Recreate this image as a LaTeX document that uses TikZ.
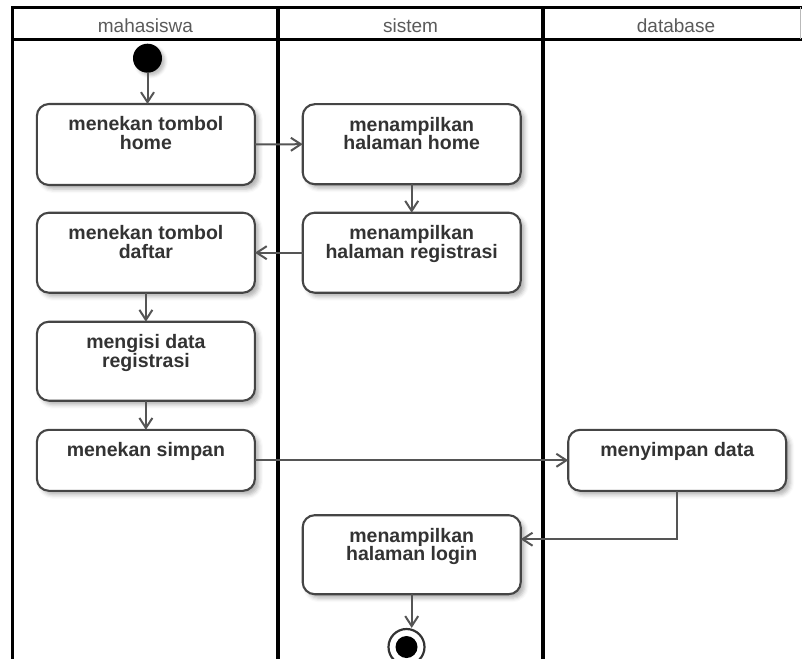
\documentclass[tikz,border=0pt]{standalone}
\usepackage{fontspec}
\setmainfont{Liberation Sans}
\usetikzlibrary{arrows.meta,shadows.blur}

\definecolor{boxline}{HTML}{454545}
\definecolor{txt}{HTML}{333333}
\definecolor{flowline}{HTML}{555555}
\definecolor{lanehead}{HTML}{5A5A5A}

% activity text: fixed-size box, text set from the top
\newcommand\actlabel[3]{\parbox[c][#2pt][t]{#1pt}{\centering\vspace*{12.8pt}#3\par}}

\begin{document}
\begin{tikzpicture}[x=1pt,y=-1pt,
  act/.style={draw=boxline, line width=2.1pt, rounded corners=12pt, fill=white,
    inner sep=0pt, outer sep=0pt, text=txt,
    font=\fontsize{19.5}{18.8}\selectfont\bfseries,
    blur shadow={shadow xshift=4pt, shadow yshift=-4pt, shadow blur radius=4pt,
      shadow opacity=30}},
  flow/.style={draw=flowline, line width=2pt,
    -{Straight Barb[length=10pt,width=13pt]}},
  lane/.style={draw=black, line width=3.1pt, line join=miter},
  lanetitle/.style={anchor=base, inner sep=0pt, text=lanehead,
    font=\fontsize{19}{19}\selectfont}]

\useasboundingbox (0,0) rectangle (802,658);

% swimlane frame
\draw[lane] (12.7,665) -- (12.7,7.3) -- (805,7.3);
\draw[lane] (12.7,39.3) -- (805,39.3);
\draw[lane] (278,7.3) -- (278,665);
\draw[lane] (543,7.3) -- (543,665);
\draw[draw=gray!55, line width=0.8pt] (800.6,7.3) -- (800.6,39.3);

\node[lanetitle] (lmhs) at (145.4,32.3) {mahasiswa};
\node[lanetitle] (lsys) at (410.5,32.3) {sistem};
\node[lanetitle] (ldb)  at (676,32.3) {database};

% start and end states
\node[circle, fill=black, minimum size=29pt, inner sep=0pt,
  blur shadow={shadow xshift=3pt, shadow yshift=-3pt, shadow blur radius=3pt,
    shadow opacity=25}] (start) at (147.5,58.2) {};
\node[circle, draw=txt, line width=2.2pt, fill=white, minimum size=36pt,
  inner sep=0pt] (stop) at (406.5,647) {};
\node[circle, fill=black, minimum size=22pt, inner sep=0pt] (stopdot) at (stop) {};

% activities: mahasiswa
\node[act] (tombolhome) at (145.9,144.5) {\actlabel{218}{81}{menekan tombol\\home}};
\node[act] (daftar)     at (145.9,252.7) {\actlabel{218}{80}{menekan tombol\\daftar}};
\node[act] (isi)        at (145.9,361.2) {\actlabel{218}{79}{mengisi data\\registrasi}};
\node[act] (simpan)     at (145.9,460.3) {\actlabel{218}{61}{menekan simpan}};

% activities: sistem
\node[act] (halhome)  at (411.7,144.2) {\actlabel{218}{80}{menampilkan\\halaman home}};
\node[act] (halreg)   at (411.7,252.7) {\actlabel{218}{80}{menampilkan\\halaman registrasi}};
\node[act] (hallogin) at (411.7,554.7) {\actlabel{218}{79}{menampilkan\\halaman login}};

% activities: database
\node[act] (dbsave) at (677.2,460.3) {\actlabel{218}{61}{menyimpan data}};

% control flow
\draw[flow] (start) -- (start |- tombolhome.north);
\draw[flow] (tombolhome.east) -- (halhome.west);
\draw[flow] (halhome.south) -- (halreg.north);
\draw[flow] (halreg.west) -- (daftar.east);
\draw[flow] (daftar.south) -- (isi.north);
\draw[flow] (isi.south) -- (simpan.north);
\draw[flow] (simpan.east) -- (dbsave.west);
\draw[flow] (dbsave.south) |- ([yshift=15.5pt]hallogin.east);
\draw[flow] (hallogin.south) -- (hallogin.south |- stop.north);

\end{tikzpicture}
\end{document}
